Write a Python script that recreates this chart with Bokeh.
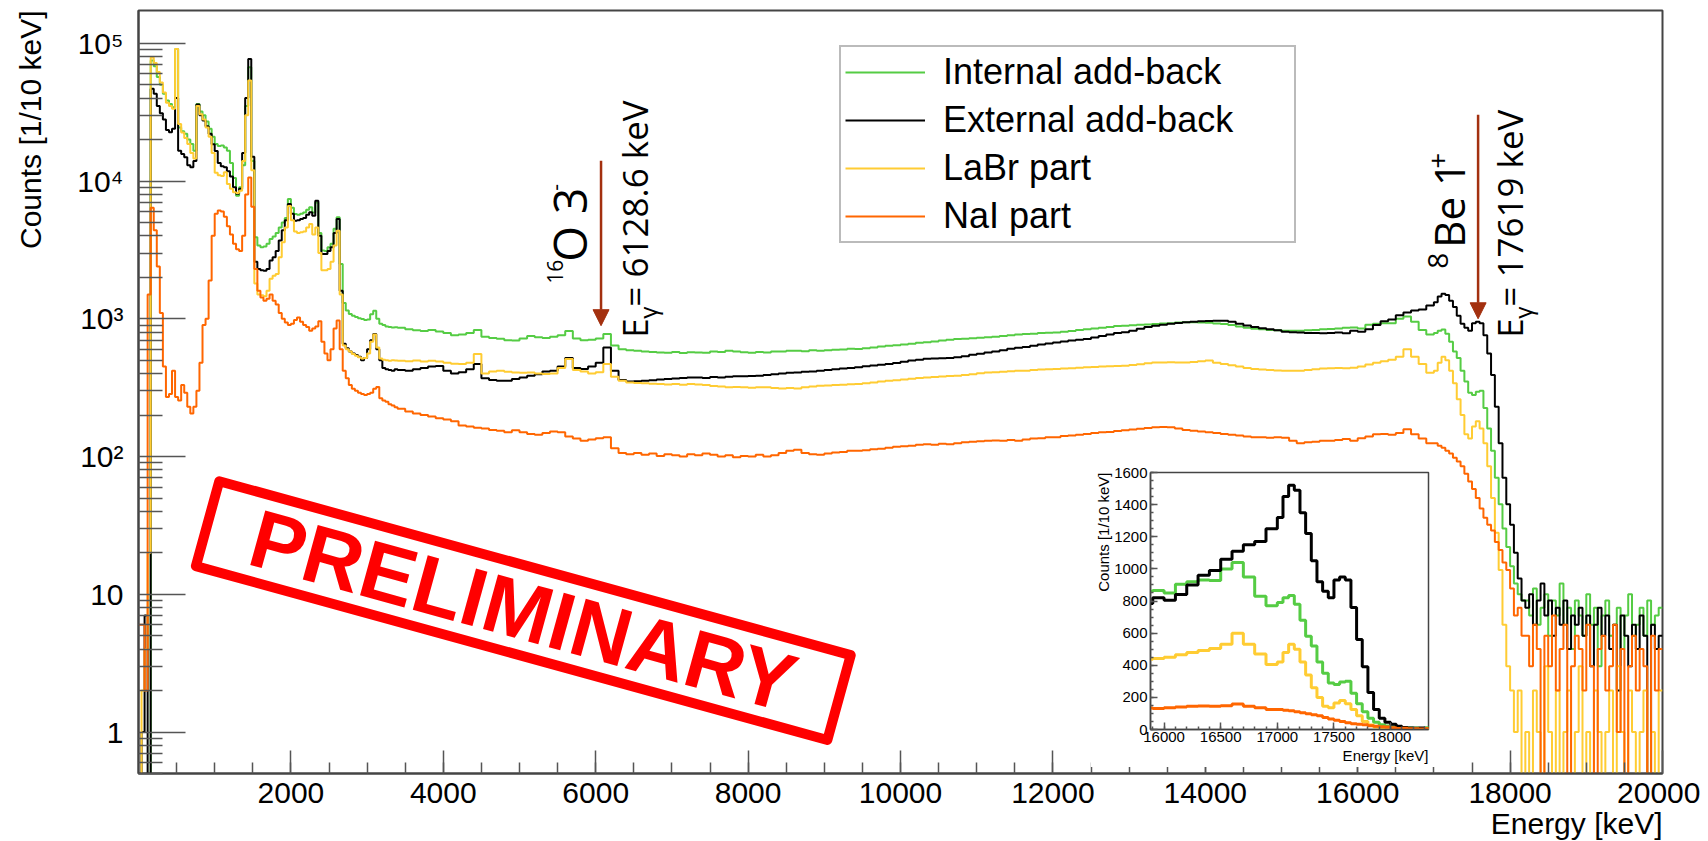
import math
from bokeh.plotting import figure
from bokeh.models import (Range1d, FixedTicker, Legend, LegendItem, Label, Arrow, NormalHead,
                          Title, GridBox, Column)
from bokeh.embed import file_html
from bokeh.resources import INLINE

# ---------------- data (counts per bin) ----------------
BIN_LOW = list(range(0, 3400, 40))        # 40 keV bins, 0-3400 keV
BIN_MID = list(range(3400, 17000, 100))   # 100 keV bins, 3400-17000 keV
BIN_HIGH = list(range(17000, 20000, 50))  # 50 keV bins, 17000-20000 keV
E_END = 20000

INTERNAL_LOW = [0, 0, 0, 0, 75000, 68000, 57000, 50000, 43000, 38400,
                36300, 34300, 91000, 24500, 23000, 22000, 20000, 18600, 16600, 36300,
                32000, 30000, 27000, 24000, 21000, 18600, 18000, 18100, 17500, 16600,
                13500, 10500, 7830, 9000, 13000, 35000, 67000, 14000, 3900, 3400,
                3300, 3350, 3500, 3800, 3950, 4200, 4600, 5000, 5400, 7400,
                6400, 5770, 5700, 5800, 5900, 6200, 6440, 5900, 7000, 4200,
                3125, 3100, 3300, 3500, 4500, 5450, 2500, 1300, 1150, 1083,
                1050, 1030, 1010, 996, 980, 990, 1080, 1145, 1000, 920,
                900, 880, 870, 865, 867]
INTERNAL_MID = [860, 840, 825, 815, 830, 810, 790, 760, 770, 790,
                830, 740, 725, 715, 700, 695, 720, 750, 735, 725,
                740, 760, 815, 720, 700, 705, 720, 775, 640, 600,
                590, 585, 580, 575, 570, 568, 575, 565, 572, 570,
                568, 580, 575, 587, 578, 572, 568, 575, 570, 578,
                580, 587, 585, 582, 590, 587, 592, 595, 598, 605,
                604, 612, 620, 630, 638, 642, 650, 660, 670, 676,
                685, 695, 705, 713, 716, 722, 728, 733, 740, 750,
                760, 770, 775, 780, 788, 792, 796, 805, 815, 828,
                840, 850, 860, 872, 885, 891, 898, 905, 910, 916,
                925, 930, 938, 942, 945, 940, 935, 925, 916, 900,
                880, 860, 845, 838, 830, 825, 820, 818, 820, 825,
                830, 838, 843, 850, 860, 866, 850, 905, 920, 930,
                928, 1000, 1040, 950, 830, 770]
INTERNAL_HIGH = [790, 820, 835, 780, 680, 580, 520, 420, 350, 290,
                 280, 295, 300, 225, 160, 110, 70, 45, 30, 22,
                 16, 12, 10, 9, 9, 7, 11, 6, 8, 10,
                 5, 9, 7, 12, 6, 8, 4, 9, 7, 5,
                 10, 6, 8, 3, 7, 9, 5, 6, 8, 4,
                 7, 10, 5, 6, 8, 5, 9, 6, 7, 8]

EXTERNAL_LOW = [0, 1, 7, 0, 46700, 43000, 35000, 31000, 28000, 23500,
                22600, 24000, 40000, 16600, 15700, 14900, 13000, 12600, 14000, 36000,
                30000, 27500, 25000, 22000, 18500, 16500, 13500, 12800, 12600, 11800,
                10800, 9000, 8100, 8800, 16000, 40000, 77000, 15000, 2600, 2300,
                2250, 2230, 2300, 2650, 2800, 3100, 3700, 4400, 5200, 6800,
                5800, 5150, 5200, 5300, 5400, 5700, 5930, 5600, 7200, 4000,
                2950, 2950, 3100, 3300, 4200, 5300, 1600, 660, 610, 580,
                560, 545, 530, 500, 520, 600, 700, 775, 600, 500,
                440, 430, 425, 420, 430]
EXTERNAL_MID = [425, 420, 430, 440, 450, 455, 420, 400, 410, 430,
                470, 370, 360, 355, 355, 365, 375, 386, 395, 415,
                420, 450, 520, 440, 432, 450, 480, 620, 420, 360,
                350, 352, 355, 358, 362, 365, 368, 372, 375, 375,
                372, 378, 375, 380, 382, 383, 385, 386, 390, 395,
                400, 405, 408, 412, 415, 420, 425, 430, 435, 440,
                445, 452, 458, 464, 470, 478, 487, 497, 505, 512,
                515, 518, 520, 525, 535, 548, 558, 570, 580, 592,
                605, 615, 625, 638, 650, 662, 674, 685, 695, 703,
                713, 730, 750, 770, 790, 800, 820, 845, 870, 891,
                905, 920, 932, 942, 950, 958, 965, 968, 968, 950,
                920, 895, 870, 855, 840, 825, 805, 798, 796, 790,
                788, 785, 790, 795, 785, 820, 805, 840, 900, 960,
                990, 1060, 1110, 1150, 1170, 1250]
EXTERNAL_HIGH = [1320, 1450, 1520, 1490, 1350, 1220, 1050, 920, 860, 820,
                 930, 950, 930, 760, 560, 390, 230, 125, 70, 45,
                 32, 20, 13, 9, 8, 10, 6, 9, 12, 7,
                 9, 5, 8, 6, 9, 4, 7, 6, 8, 5,
                 7, 3, 6, 8, 5, 7, 4, 6, 2, 7,
                 5, 3, 6, 4, 7, 5, 0, 6, 4, 5]

LABR_LOW = [0, 2, 4, 20, 79000, 72000, 62000, 52000, 44000, 37000,
            35000, 33500, 91000, 26000, 22500, 20500, 18600, 16000, 14600, 35000,
            30500, 28000, 24500, 21000, 16000, 11500, 11000, 10900, 11600, 9500,
            8800, 8300, 8200, 8500, 14000, 30000, 53600, 12000, 1800, 1500,
            1480, 1460, 1600, 1950, 2050, 2110, 2800, 3600, 4600, 6600,
            5200, 4300, 4200, 4250, 4300, 4600, 4880, 4100, 4600, 3000,
            2250, 2250, 2300, 2600, 3400, 4360, 1500, 640, 600, 580,
            555, 540, 525, 515, 520, 560, 680, 770, 620, 515,
            505, 500, 495, 500, 497]
LABR_MID = [495, 492, 497, 490, 495, 490, 480, 472, 470, 480,
            555, 400, 415, 420, 412, 408, 405, 408, 400, 398,
            400, 440, 510, 425, 415, 400, 410, 470, 380, 355,
            345, 342, 340, 338, 336, 334, 336, 332, 336, 334,
            330, 325, 322, 318, 320, 318, 316, 318, 318, 314,
            312, 315, 312, 318, 322, 327, 328, 330, 332, 335,
            336, 340, 345, 350, 355, 358, 362, 367, 372, 375,
            378, 381, 384, 386, 390, 396, 402, 408, 410, 413,
            416, 419, 420, 424, 428, 430, 432, 435, 438, 441,
            444, 447, 450, 453, 455, 456, 462, 468, 475, 482,
            482, 483, 481, 482, 486, 492, 497, 480, 470, 460,
            450, 440, 432, 428, 425, 422, 420, 420, 420, 425,
            430, 435, 438, 440, 438, 442, 450, 465, 480, 492,
            505, 530, 600, 530, 470, 405]
LABR_HIGH = [420, 480, 530, 500, 420, 340, 260, 200, 145, 135,
             165, 180, 160, 125, 85, 50, 28, 15, 6, 3,
             2, 1, 2, 0, 1, 0, 2, 1, 0, 3,
             1, 0, 2, 0, 1, 2, 0, 1, 3, 0,
             1, 0, 2, 1, 0, 1, 2, 0, 3, 1,
             0, 2, 1, 0, 1, 2, 0, 1, 0, 2]

NAI_LOW = [6, 6, 2, 1500, 6400, 4400, 2400, 1100, 450, 270,
           285, 420, 270, 255, 330, 290, 230, 205, 230, 300,
           480, 900, 1000, 1900, 4000, 5800, 6100, 6000, 5500, 4700,
           4100, 3500, 3200, 3100, 4000, 8000, 10600, 6500, 2300, 1600,
           1430, 1350, 1400, 1500, 1350, 1270, 1100, 1000, 940, 900,
           920, 980, 1020, 950, 900, 870, 820, 850, 880, 960,
           680, 560, 500, 600, 850, 970, 600, 420, 370, 330,
           310, 300, 290, 285, 280, 285, 290, 310, 320, 265,
           255, 250, 240, 235, 228]
NAI_MID = [222, 212, 205, 200, 195, 190, 186, 180, 168, 165,
           162, 160, 156, 154, 150, 155, 150, 146, 144, 148,
           152, 150, 140, 135, 130, 133, 136, 138, 115, 106,
           104, 106, 103, 105, 101, 104, 102, 100, 104, 102,
           105, 103, 100, 102, 99, 101, 100, 103, 100, 102,
           106, 110, 112, 106, 104, 103, 105, 107, 108, 110,
           110, 111, 113, 114, 116, 118, 119, 120, 122, 123,
           122, 124, 123, 125, 127, 128, 129, 130, 131, 130,
           132, 130, 133, 135, 136, 138, 138, 141, 142, 144,
           146, 148, 150, 151, 153, 155, 157, 159, 161, 163,
           164, 163, 160, 156, 154, 152, 150, 148, 146, 144,
           142, 140, 138, 138, 137, 138, 137, 130, 125, 127,
           128, 130, 130, 132, 134, 130, 136, 140, 145, 146,
           144, 148, 158, 145, 135, 125]
NAI_HIGH = [125, 120, 116, 110, 105, 98, 92, 85, 75, 66,
            58, 50, 42, 36, 32, 29, 24, 21, 17, 15,
            11, 7, 8, 5, 5, 3, 6, 4, 0, 5,
            3, 7, 2, 4, 6, 0, 3, 5, 4, 2,
            6, 3, 0, 4, 5, 2, 3, 6, 1, 4,
            0, 3, 5, 2, 4, 3, 0, 5, 2, 4]

SERIES_NAMES = ["Internal add-back", "External add-back", "LaBr part", "NaI part"]
SERIES_COLORS = ["#55cc44", "#000000", "#ffcc33", "#ff6600"]
SERIES_DATA = [
    [INTERNAL_LOW, INTERNAL_MID, INTERNAL_HIGH],
    [EXTERNAL_LOW, EXTERNAL_MID, EXTERNAL_HIGH],
    [LABR_LOW, LABR_MID, LABR_HIGH],
    [NAI_LOW, NAI_MID, NAI_HIGH],
]

X_TICKS = [2000, 4000, 6000, 8000, 10000, 12000, 14000, 16000, 18000, 20000]
Y_TICKS = [1, 10, 100, 1000, 10000, 100000]
Y_TICK_LABELS = ["1", "10", "10\u00b2", "10\u00b3", "10\u2074", "10\u2075"]
INSET_X_TICKS = [16000, 16500, 17000, 17500, 18000]
INSET_Y_TICKS = [0, 200, 400, 600, 800, 1000, 1200, 1400, 1600]

# annotations: peak markers
ARROW_X = [6070, 17580]
ARROW_TOP = [14060, 30300]
ARROW_TIP = [891, 1000]
ARROW_COLOR = "#a3300f"

FONT = "Liberation Sans"
AFONT = "Open Sans"


def hist_xy(parts, floor):
    edges = BIN_LOW + BIN_MID + BIN_HIGH + [E_END]
    counts = parts[0] + parts[1] + parts[2]
    assert len(counts) == len(edges) - 1, (len(counts), len(edges))
    ys = [c if c > 0 else floor for c in counts]
    ys.append(ys[-1])
    return edges, ys


def style_axis(ax, size, standoff, maj, mnr, lw):
    ax.major_label_text_font = FONT
    ax.major_label_text_font_size = size
    ax.major_label_text_color = "black"
    ax.major_label_standoff = standoff
    ax.major_tick_in = maj
    ax.major_tick_out = 0
    ax.minor_tick_in = mnr
    ax.minor_tick_out = 0
    ax.axis_line_color = "#444444"
    ax.axis_line_width = lw
    ax.major_tick_line_color = "#555555"
    ax.minor_tick_line_color = "#555555"
    ax.major_tick_line_width = 1.5
    ax.minor_tick_line_width = 1.5


# ---------------- main figure ----------------
p = figure(width=1700, height=841, x_range=Range1d(0, 20000), y_range=Range1d(0.5, 1.73e5),
           y_axis_type="log", output_backend="svg", toolbar_location=None,
           min_border_left=138, min_border_right=38, min_border_top=10, min_border_bottom=68,
           background_fill_color="white", border_fill_color="white")
p.grid.visible = False
p.outline_line_color = "#444444"
p.outline_line_width = 2

renderers = []
for parts, color in zip(SERIES_DATA, SERIES_COLORS):
    xs, ys = hist_xy(parts, 0.05)
    r = p.step(xs, ys, mode="after", line_color=color, line_width=2)
    renderers.append(r)

xa = p.xaxis[0]
xa.ticker = FixedTicker(ticks=X_TICKS, minor_ticks=list(range(500, 20000, 500)))
ya = p.yaxis[0]
minor_y = []
for d in [0.1, 1, 10, 100, 1000, 10000, 100000]:
    for m in range(2, 10):
        v = d * m
        if 0.5 <= v <= 1.73e5:
            minor_y.append(v)
ya.ticker = FixedTicker(ticks=Y_TICKS, minor_ticks=minor_y)
ya.major_label_overrides = {t: s for t, s in zip(Y_TICKS, Y_TICK_LABELS)}
style_axis(xa, "30px", 9, 23, 11, 2)
style_axis(ya, "30px", 15, 47, 24, 2)

# legend
legend = Legend(items=[LegendItem(label=n, renderers=[r]) for n, r in zip(SERIES_NAMES, renderers)],
                location=(701, 530), label_text_font=FONT, label_text_font_size="36px",
                label_text_color="black",
                glyph_width=80, glyph_height=36, label_height=36, label_width=347,
                label_standoff=18, padding=4, spacing=6, margin=0,
                border_line_color="#777777", border_line_width=2,
                background_fill_color="white", background_fill_alpha=1.0)
p.add_layout(legend)

# arrows
for xa_, top, tip in zip(ARROW_X, ARROW_TOP, ARROW_TIP):
    p.add_layout(Arrow(end=NormalHead(size=16, fill_color=ARROW_COLOR, line_color=ARROW_COLOR),
                       x_start=xa_, y_start=top, x_end=xa_, y_end=tip,
                       line_color=ARROW_COLOR, line_width=2.5))


def piece(x, y, text, size, dx=0, dy=0):
    # vertical text read bottom-to-top; anchored at the middle of its em box
    p.add_layout(Label(x=x, y=y, x_offset=dx, y_offset=dy, text=text, angle=math.pi / 2,
                       text_align="left", text_baseline="middle", text_font=AFONT,
                       text_font_size=f"{size}px", text_color="black"))


# 16O 3-
piece(5892, 1798, "16", 21, dx=-32, dy=0)
piece(5892, 1798, "O 3", 46, dx=-18, dy=22)
piece(5892, 1798, "-", 21, dx=-32, dy=93)
# E_gamma = 6128.6 keV
piece(6693, 729, "E", 35, dx=-14, dy=0)
piece(6693, 729, "\u03b3", 24, dx=-1, dy=19)
piece(6693, 729, " = 6128.6 keV", 35, dx=-14, dy=31)
# 8Be 1+
piece(17441, 2311, "8", 28, dx=-30, dy=0)
piece(17441, 2311, "Be 1", 42, dx=-19, dy=21)
piece(17441, 2311, "+", 28, dx=-30, dy=100)
# E_gamma = 17619 keV
piece(18176, 729, "E", 35, dx=-14, dy=0)
piece(18176, 729, "\u03b3", 24, dx=-1, dy=19)
piece(18176, 729, " = 17619 keV", 35, dx=-14, dy=31)

# PRELIMINARY stamp
STAMP_X, STAMP_Y, STAMP_ANGLE = 5050, 7.61, -0.2688
p.rect(x=[STAMP_X], y=[STAMP_Y], width=655, height=88, width_units="screen",
       height_units="screen", angle=STAMP_ANGLE, fill_alpha=0, line_color="#ff0000",
       line_width=10, line_join="round")
p.add_layout(Label(x=STAMP_X, y=STAMP_Y, text="PRELIMINARY", angle=STAMP_ANGLE,
                   text_align="center", text_baseline="middle", text_font=FONT,
                   text_font_style="bold", text_font_size="82px", text_color="#ff0000"))

# ---------------- inset ----------------
inset = figure(width=346, height=307, x_range=Range1d(15880, 18335), y_range=Range1d(0, 1600),
               output_backend="svg", toolbar_location=None,
               min_border_left=60, min_border_right=8, min_border_top=12, min_border_bottom=38,
               background_fill_color="white", border_fill_color="white")
inset.grid.visible = False
inset.outline_line_color = "#444444"
inset.outline_line_width = 1.5
for parts, color in zip(SERIES_DATA, SERIES_COLORS):
    xs, ys = hist_xy(parts, 0)
    inset.step(xs, ys, mode="after", line_color=color, line_width=3)

ixa = inset.xaxis[0]
ixa.ticker = FixedTicker(ticks=INSET_X_TICKS, minor_ticks=list(range(15900, 18400, 100)))
iya = inset.yaxis[0]
iya.ticker = FixedTicker(ticks=INSET_Y_TICKS, minor_ticks=list(range(0, 1601, 50)))
style_axis(ixa, "15px", 2, 7, 3, 1.5)
style_axis(iya, "15px", 3, 7, 3, 1.5)
inset.add_layout(Title(text="Counts [1/10 keV]", align="right", text_font=FONT,
                       text_font_size="15px", text_font_style="normal", text_color="black",
                       standoff=0), "left")
inset.add_layout(Title(text="Energy [keV]", align="right", text_font=FONT,
                       text_font_size="15px", text_font_style="normal", text_color="black",
                       standoff=0), "below")

# ---------------- transparent overlay carrying the main axis titles ----------------
# its data coordinates are page pixels (x to the right, y downwards)
ov = figure(width=1700, height=841, x_range=Range1d(0, 1700), y_range=Range1d(841, 0),
            output_backend="svg", toolbar_location=None, x_axis_location=None,
            y_axis_location=None, min_border=0, outline_line_color=None,
            background_fill_alpha=0, border_fill_alpha=0)
ov.grid.visible = False
ov.add_layout(Label(x=30, y=10, text="Counts [1/10 keV]", angle=math.pi / 2,
                    text_align="right", text_baseline="middle", text_font=FONT,
                    text_font_size="30px", text_color="black"))
ov.add_layout(Label(x=1662, y=823, text="Energy [keV]", text_align="right",
                    text_baseline="middle", text_font=FONT, text_font_size="30px",
                    text_color="black"))
ov_box = Column(children=[ov])

# overlay the inset and the title layer on the main plot (overlapping grid cells)
layout = GridBox(children=[(p, 0, 0, 4, 4), (inset, 1, 1, 1, 1), (ov_box, 0, 0, 3, 3)],
                 rows=["460px", "307px", "74px", "0px"],
                 cols=["1090px", "346px", "264px", "0px"])
open("out.html", "w").write(file_html(layout, INLINE, "Spectrum"))
